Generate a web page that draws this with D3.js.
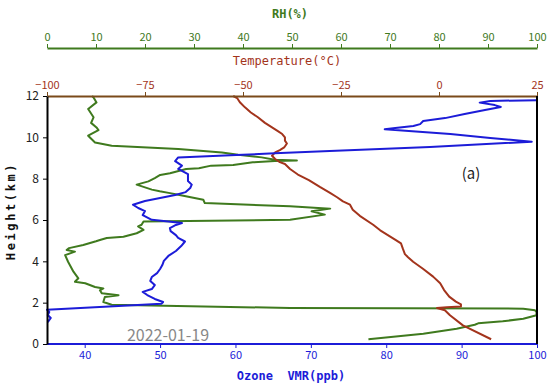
<!DOCTYPE html>
<html><head><meta charset="utf-8">
<script src="https://cdn.jsdelivr.net/npm/d3@7"></script>
<style>
html,body{margin:0;padding:0;background:#fff;}
svg{display:block;}
text{white-space:pre;}
</style></head>
<body>
<div id="chart"></div>
<script>
// ---------- data ----------
const ozoneTicks = [40, 50, 60, 70, 80, 90, 100];
const rhTicks = [0, 10, 20, 30, 40, 50, 60, 70, 80, 90, 100];
const tempTicks = [-100, -75, -50, -25, 0, 25];
const heightTicks = [0, 2, 4, 6, 8, 10, 12];

const ozoneHeight = [1.06,1.26,1.4,1.55,1.66,1.95,2.03,2.18,2.37,2.52,2.66,2.85,3.05,3.24,3.43,3.63,3.82,4.02,4.26,4.5,4.74,4.96,5.13,5.27,5.46,5.61,5.76,5.85,5.93,6.01,6.24,6.43,6.58,6.74,6.92,7.06,7.21,7.35,7.55,7.71,7.89,8.03,8.22,8.47,8.63,8.85,9.03,9.14,9.23,9.34,9.53,9.79,9.97,10.16,10.39,10.45,10.55,10.64,10.79,10.93,11.13,11.32,11.47,11.56,11.68,11.76,11.8];
const ozoneValue  = [35.1,35.5,35.1,35.3,35.0,50.2,50.4,49.3,48.3,47.7,48.9,49.3,48.7,48.9,49.6,50.0,50.3,50.5,51.1,52.1,52.8,53.3,52.4,52.1,51.4,51.3,52.1,52.9,51.1,48.9,47.7,48.0,47.1,46.4,48.0,50.0,52.0,53.4,54.0,54.2,53.7,53.7,53.7,52.4,52.9,52.0,52.4,60.1,65.2,72.5,85.8,99.3,93.8,88.5,79.8,81.2,83.6,84.5,84.9,87.8,90.4,93.1,95.2,94.4,92.4,93.8,100];

const rhHeight = [0.23,0.5,0.74,0.93,1.0,1.1,1.22,1.39,1.55,1.63,1.71,1.74,1.9,2.03,2.27,2.36,2.45,2.6,2.69,2.76,2.94,3.01,3.18,3.5,3.98,4.3,4.47,4.55,4.64,4.79,4.97,5.03,5.13,5.19,5.36,5.52,5.69,5.77,5.93,6.01,6.26,6.42,6.55,6.66,6.82,6.98,7.22,7.3,7.39,7.47,7.71,7.87,8.03,8.18,8.26,8.47,8.5,8.63,8.66,8.79,8.85,8.88,8.92,9.03,9.16,9.27,9.43,9.59,9.75,10.08,10.35,10.48,10.7,10.97,11.37,11.69,11.93,12.0];
const rhValue  = [65.6,76.8,83.6,87.3,88.0,93.0,97.2,99.9,99.9,99.6,97.2,49.6,13.2,11.5,11.8,14.6,11.2,10.8,11.5,9.8,7.8,5.7,6.4,5.4,4.3,3.7,5.7,4.0,4.5,7.4,10.0,10.8,12.2,15.6,18.3,19.7,18.6,19.3,19.7,49.6,56.7,54.0,57.8,49.6,32.2,31.9,26.8,25.1,23.0,21.4,18.3,20.7,22.0,23.1,25.1,28.4,31.0,33.5,38.0,42.0,46.5,51.0,46.5,43.8,39.0,35.7,26.8,13.2,9.8,8.4,10.5,10.1,9.0,9.5,8.4,10.1,9.5,9.2];

const tempHeight = [0.23,0.9,1.39,1.63,1.74,1.78,1.82,1.92,2.05,2.29,2.61,2.94,3.26,3.64,3.98,4.2,4.35,4.6,4.87,5.03,5.5,5.77,6.2,6.5,6.74,6.9,7.1,7.31,7.6,7.93,8.2,8.47,8.71,8.8,8.95,9.11,9.27,9.38,9.51,9.7,9.84,10.0,10.16,10.3,10.48,10.7,10.97,11.2,11.45,11.7,11.9,12.0];
const tempValue  = [13.3,6.1,2.8,1.5,-0.5,2.0,5.6,5.6,4.3,2.6,1.3,0.3,-1.5,-4.1,-6.6,-7.9,-8.7,-9.2,-9.7,-11.0,-15.0,-16.8,-20.2,-22.0,-22.7,-24.5,-26.0,-27.8,-30.4,-33.2,-36.0,-38.0,-39.3,-40.6,-41.8,-42.6,-41.8,-40.6,-39.5,-38.8,-39.3,-39.3,-40.0,-41.1,-42.6,-44.4,-46.2,-48.0,-49.5,-50.8,-51.5,-52.5];

// ---------- layout ----------
const W = 550, H = 389;
const m = {left: 47, right: 13, top: 96, bottom: 45};
const pw = W - m.left - m.right, ph = H - m.top - m.bottom;
const rhAxisY = 48;

const blue = "#1c1cd8", green = "#3f7a1e", red = "#a3341c", tempAxisCol = "#7a4a1a";

const x = d3.scaleLinear().domain([35, 100]).range([m.left, m.left + pw]);
const xRH = d3.scaleLinear().domain([0, 100]).range([m.left, m.left + pw]);
const xT = d3.scaleLinear().domain([-100, 25]).range([m.left, m.left + pw]);
const y = d3.scaleLinear().domain([0, 12]).range([m.top + ph, m.top]);

const svg = d3.select("#chart").append("svg").attr("width", W).attr("height", H);

const mono = "'DejaVu Sans Mono', 'Liberation Mono', monospace";
const sans = "'Noto Sans CJK SC', 'DejaVu Sans', sans-serif";

// ---------- curves ----------
const g = svg.append("g");
function drawLine(hs, vs, sx, color) {
  const pts = hs.map((h, i) => [vs[i], h]);
  g.append("path").datum(pts)
    .attr("fill", "none").attr("stroke", color).attr("stroke-width", 2)
    .attr("stroke-linejoin", "round")
    .attr("d", d3.line().x(d => sx(d[0])).y(d => y(d[1])));
}
drawLine(rhHeight, rhValue, xRH, green);
drawLine(tempHeight, tempValue, xT, red);
drawLine(ozoneHeight, ozoneValue, x, blue);

// ---------- axes ----------
// bottom ozone
const ax = svg.append("g").attr("transform", `translate(0,${m.top + ph})`)
  .call(d3.axisBottom(x).tickValues(ozoneTicks).tickSize(4).tickSizeOuter(0).tickPadding(3));
ax.select(".domain").attr("stroke", blue).attr("stroke-width", 2).attr("d", `M${m.left},0H${m.left+pw}`);
ax.selectAll(".tick line").attr("stroke", blue);
ax.selectAll(".tick text").attr("fill", blue).style("font-family", sans).style("font-size", "11px");

// top RH
const arh = svg.append("g").attr("transform", `translate(0,${rhAxisY})`)
  .call(d3.axisTop(xRH).tickValues(rhTicks).tickSize(4).tickSizeOuter(0).tickPadding(3));
arh.select(".domain").attr("stroke", green).attr("stroke-width", 2);
arh.selectAll(".tick line").attr("stroke", green);
arh.selectAll(".tick text").attr("fill", green).style("font-family", sans).style("font-size", "11px");

// top temperature
const at = svg.append("g").attr("transform", `translate(0,${m.top})`)
  .call(d3.axisTop(xT).tickValues(tempTicks).tickFormat(d => d < 0 ? "\u2212" + Math.abs(d) : d).tickSize(4).tickSizeOuter(0).tickPadding(3));
at.select(".domain").attr("stroke", tempAxisCol).attr("stroke-width", 2);
at.selectAll(".tick line").attr("stroke", tempAxisCol);
at.selectAll(".tick text").attr("fill", red).style("font-family", sans).style("font-size", "11px");

// left height axis
const ay = svg.append("g").attr("transform", `translate(${m.left},0)`)
  .call(d3.axisLeft(y).tickValues(heightTicks).tickSize(4).tickSizeOuter(0).tickPadding(4));
ay.select(".domain").attr("stroke", "#000").attr("stroke-width", 2);
ay.selectAll(".tick line").attr("stroke", "#000");
ay.selectAll(".tick text").attr("fill", "#222").style("font-family", sans).style("font-size", "12px");

// right border
svg.append("line").attr("x1", m.left + pw).attr("x2", m.left + pw)
  .attr("y1", m.top).attr("y2", m.top + ph).attr("stroke", "#000").attr("stroke-width", 2);

// ---------- titles ----------
svg.append("text").attr("x", 290).attr("y", 18).attr("text-anchor", "middle")
  .attr("fill", green).style("font-family", mono).style("font-size", "12px").style("font-weight", "bold")
  .text("RH(%)");
svg.append("text").attr("x", 287).attr("y", 65).attr("text-anchor", "middle")
  .attr("fill", red).style("font-family", mono).style("font-size", "12px")
  .text("Temperature(\u00B0C)");
svg.append("text").attr("x", 291).attr("y", 380).attr("text-anchor", "middle")
  .attr("fill", blue).style("font-family", mono).style("font-size", "12px").style("font-weight", "bold")
  .text("Ozone  VMR(ppb)");
svg.append("text").attr("transform", "translate(15,211) rotate(-90)").attr("text-anchor", "middle")
  .attr("fill", "#111").style("font-family", mono).style("font-size", "12px").style("font-weight", "bold")
  .style("letter-spacing", "2.6px")
  .text("Height(km)");
svg.append("text").attr("x", 471).attr("y", 179).attr("text-anchor", "middle")
  .attr("fill", "#222").style("font-family", sans).style("font-size", "15px")
  .text("(a)");
svg.append("text").attr("x", 168).attr("y", 341).attr("text-anchor", "middle")
  .attr("fill", "#888").style("font-family", sans).style("font-size", "16px")
  .text("2022-01-19");
</script>
</body></html>
